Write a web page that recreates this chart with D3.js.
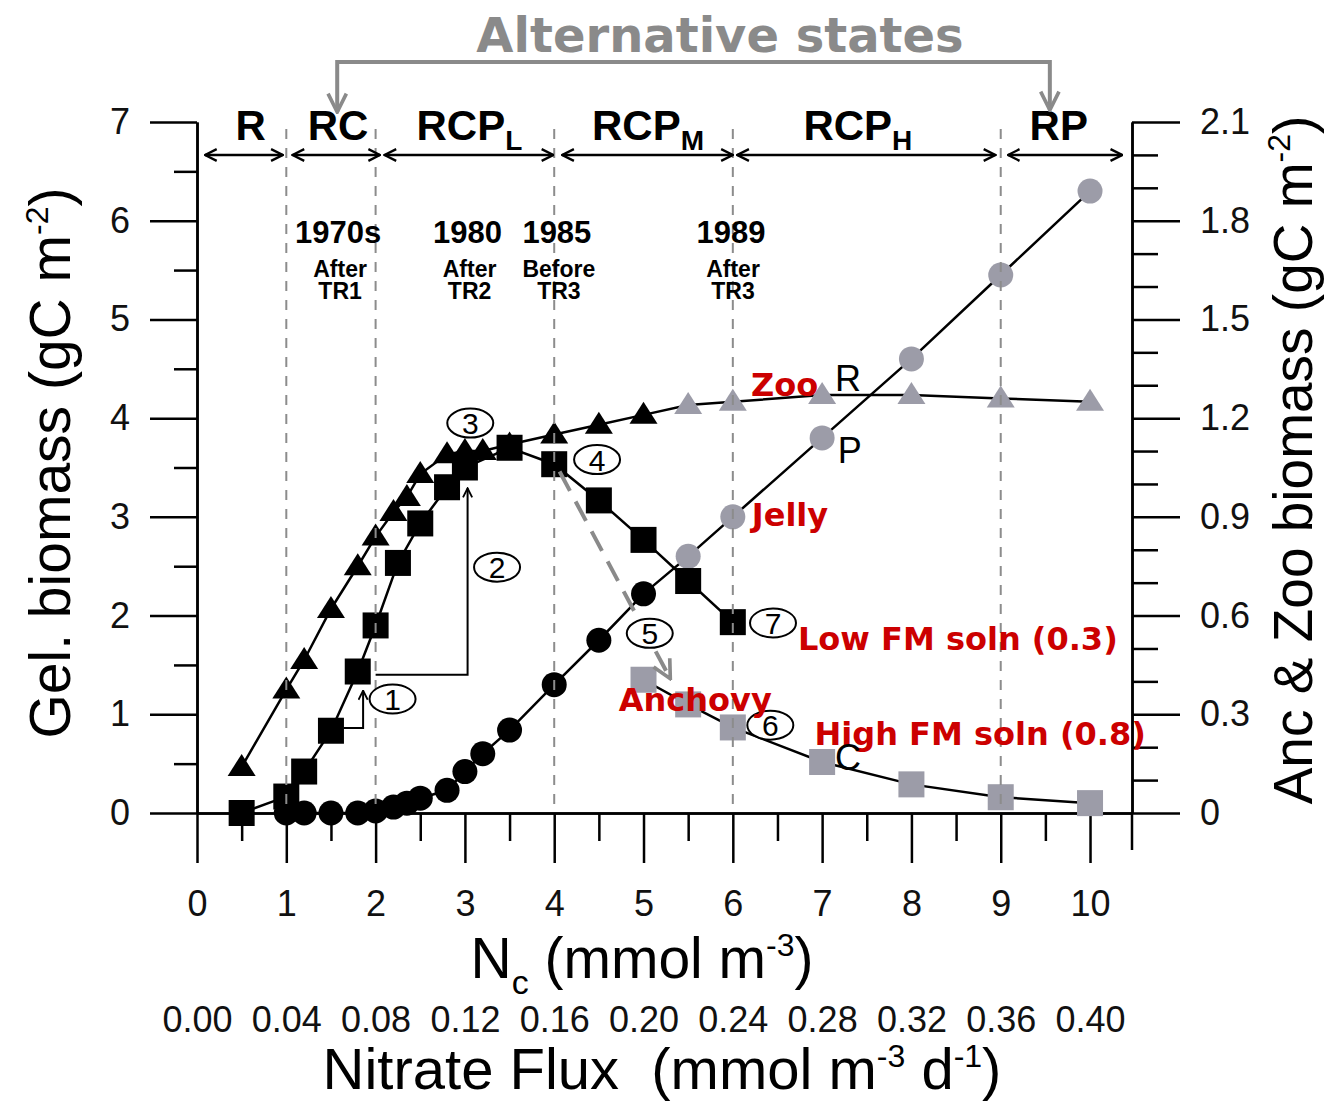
<!DOCTYPE html>
<html>
<head>
<meta charset="utf-8">
<script src="https://cdn.jsdelivr.net/npm/d3@7"></script>
<style>
  body { margin: 0; background: #fff; }
  svg { display: block; }
</style>
</head>
<body>
<div id="chart"></div>
<script>
// ---- data ----
// Zoo (right axis, gC m-2)
var zooNc  = [0.5, 1.0, 1.2, 1.5, 1.8, 2.0, 2.2, 2.35, 2.5, 2.8, 3.0, 3.2, 3.5, 4.0, 4.5, 5.0, 5.5, 6, 7, 8, 9, 10];
var zooBio = [0.14, 0.375, 0.465, 0.62, 0.75, 0.84, 0.915, 0.96, 1.03, 1.09, 1.10, 1.10, 1.12, 1.15, 1.18, 1.21, 1.24, 1.25, 1.27, 1.27, 1.26, 1.25];
// Anchovy, low FM solution (right axis)
var ancLowNc  = [0.5, 1.0, 1.2, 1.5, 1.8, 2.0, 2.25, 2.5, 2.8, 3.0, 3.5, 4.0, 4.5, 5.0, 5.5, 6.0];
var ancLowBio = [0, 0.05, 0.126, 0.25, 0.43, 0.57, 0.76, 0.88, 0.99, 1.05, 1.11, 1.06, 0.95, 0.83, 0.705, 0.58];
// Anchovy, high FM solution (right axis)
var ancHighNc  = [5, 5.5, 6, 7, 8, 9, 10];
var ancHighBio = [0.405, 0.33, 0.26, 0.155, 0.087, 0.048, 0.03];
// Jelly (left axis)
var jellyNc  = [1.0, 1.2, 1.5, 1.8, 2.0, 2.2, 2.35, 2.5, 2.8, 3.0, 3.2, 3.5, 4.0, 4.5, 5.0, 5.5, 6, 7, 8, 9, 10];
var jellyBio = [0, 0, 0, 0, 0.02, 0.06, 0.1, 0.15, 0.23, 0.42, 0.6, 0.84, 1.3, 1.75, 2.22, 2.6, 3.0, 3.8, 4.6, 5.45, 6.3];
var greyFrom = 5.5;   // zoo & jelly markers turn grey from here

// regimes along the top
var regionName = ["R", "RC", "RCP", "RCP", "RCP", "RP"];
var regionSub  = ["", "", "L", "M", "H", ""];
var regionLabelNc = [0.6, 1.58, 3.05, 5.05, 7.4, 9.65];
var regionFrom = [0.09, 1.07, 2.1, 4.09, 6.05, 9.08];
var regionTo   = [0.96, 2.05, 3.99, 6.0, 8.94, 10.36];
var boundaries = [1, 2, 4, 6, 9];

var yearText = ["1970s", "1980", "1985", "1989"];
var yearLine1 = ["After", "After", "Before", "After"];
var yearLine2 = ["TR1", "TR2", "TR3", "TR3"];
var yearNc = [1.58, 3.03, 4.03, 5.98];

// circled step numbers (left axis units)
var stepText = ["1", "2", "3", "4", "5", "6", "7"];
var stepNc   = [2.19, 3.36, 3.06, 4.48, 5.07, 6.42, 6.45];
var stepBio  = [1.155, 2.49, 3.95, 3.58, 1.82, 0.89, 1.925];

// red labels (left axis units)
var tagText = ["Zoo", "Jelly", "Low FM soln (0.3)", "Anchovy", "High FM soln (0.8)"];
var tagNc   = [6.58, 6.64, 8.52, 5.58, 8.77];
var tagBio  = [4.34, 3.02, 1.77, 1.15, 0.81];

// curve letters
var letterText = ["R", "P", "C"];
var letterNc   = [7.29, 7.31, 7.29];
var letterBio  = [4.41, 3.68, 0.57];

var xTicks = d3.range(0, 11, 1);
var fluxTicks = xTicks.map(function(d) { return d * 0.04; });

var width = 1329, height = 1102;
var grey = "#9c9ca8";
var red = "#cc0000";
var sans = "'Liberation Sans', Arial, sans-serif";
var wide = "'DejaVu Sans', Verdana, sans-serif";

var svg = d3.select("#chart").append("svg")
  .attr("width", width)
  .attr("height", height)
  .style("background", "#fff");

var defs = svg.append("defs");
function arrowMarker(id, color, size) {
  defs.append("marker")
    .attr("id", id)
    .attr("viewBox", "0 0 12 12")
    .attr("refX", 11).attr("refY", 6)
    .attr("markerWidth", size).attr("markerHeight", size)
    .attr("markerUnits", "userSpaceOnUse")
    .attr("orient", "auto-start-reverse")
    .append("path")
    .attr("d", "M1,1 L11,6 L1,11")
    .attr("fill", "none")
    .attr("stroke", color)
    .attr("stroke-width", 2);
}
arrowMarker("blackArrow", "#000", 14);
arrowMarker("smallArrow", "#000", 11);
arrowMarker("greyArrow", "#8a8a8a", 22);

var x = d3.scaleLinear().domain([0, 10.47]).range([197, 1132]);
var yL = d3.scaleLinear().domain([0, 7]).range([813, 122]);
var yR = d3.scaleLinear().domain([0, 2.1]).range([813, 122]);

// ---- axes ----
function styleAxis(g, size) {
  g.selectAll("path, line").attr("stroke", "#000").attr("stroke-width", 2.5);
  g.selectAll("text").style("font-family", sans).style("font-size", size + "px").attr("fill", "#111");
}

// left
svg.append("g").attr("transform", "translate(" + x(0) + ",0)")
  .call(d3.axisLeft(yL).tickValues(d3.range(0.5, 7, 1)).tickSize(23).tickSizeOuter(0).tickFormat(""))
  .call(styleAxis, 36);
svg.append("g").attr("transform", "translate(" + x(0) + ",0)")
  .call(d3.axisLeft(yL).tickValues(d3.range(0, 8, 1)).tickSize(47).tickSizeOuter(0).tickPadding(20).tickFormat(d3.format("d")))
  .call(styleAxis, 36);

// right
var xRight = x(10.47);
svg.append("g").attr("transform", "translate(" + xRight + ",0)")
  .call(d3.axisRight(yR).tickValues(d3.range(1, 21, 1).filter(function(d) { return d % 3; }).map(function(d) { return d / 10; }))
    .tickSize(26).tickSizeOuter(0).tickFormat(""))
  .call(styleAxis, 36);
svg.append("g").attr("transform", "translate(" + xRight + ",0)")
  .call(d3.axisRight(yR).tickValues([0, 0.3, 0.6, 0.9, 1.2, 1.5, 1.8, 2.1]).tickSize(48).tickSizeOuter(0).tickPadding(20)
    .tickFormat(function(d) { return d === 0 ? "0" : d3.format(".1f")(d); }))
  .call(styleAxis, 36);
svg.append("line")
  .attr("x1", xRight).attr("x2", xRight)
  .attr("y1", yR(0)).attr("y2", yR(0) + 37)
  .attr("stroke", "#000").attr("stroke-width", 2.5);

// bottom
svg.append("g").attr("transform", "translate(0," + yL(0) + ")")
  .call(d3.axisBottom(x).tickValues(d3.range(0.5, 10.5, 1)).tickSize(28).tickSizeOuter(0).tickFormat(""))
  .call(styleAxis, 36);
svg.append("g").attr("transform", "translate(0," + yL(0) + ")")
  .call(d3.axisBottom(x).tickValues(xTicks).tickSize(50).tickSizeOuter(0).tickPadding(27))
  .call(styleAxis, 36);

// nitrate flux labels
var flux = d3.scaleLinear().domain([0, 0.4]).range([x(0), x(10)]);
var fluxAxis = svg.append("g").attr("transform", "translate(0,1006)")
  .call(d3.axisBottom(flux).tickValues(fluxTicks).tickSize(0).tickPadding(0).tickFormat(d3.format(".2f")));
fluxAxis.select(".domain").remove();
fluxAxis.call(styleAxis, 36);

// axis titles
var t1 = svg.append("text")
  .attr("x", 642).attr("y", 978)
  .attr("text-anchor", "middle")
  .style("font-family", sans).style("font-size", "57px");
t1.append("tspan").text("N");
t1.append("tspan").attr("font-size", "34px").attr("dy", 16).text("c");
t1.append("tspan").attr("dy", -16).text(" (mmol m");
t1.append("tspan").attr("font-size", "32px").attr("dy", -22).text("-3");
t1.append("tspan").attr("dy", 22).text(")");

var t2 = svg.append("text")
  .attr("x", 662).attr("y", 1089)
  .attr("text-anchor", "middle")
  .style("font-family", sans).style("font-size", "58px");
t2.append("tspan").text("Nitrate Flux \u00a0(mmol m");
t2.append("tspan").attr("font-size", "32px").attr("dy", -22).text("-3");
t2.append("tspan").attr("dy", 22).text(" d");
t2.append("tspan").attr("font-size", "32px").attr("dy", -22).text("-1");
t2.append("tspan").attr("dy", 22).text(")");

var t3 = svg.append("text")
  .attr("transform", "translate(70,463) rotate(-90)")
  .attr("text-anchor", "middle")
  .style("font-family", sans).style("font-size", "57px");
t3.append("tspan").text("Gel. biomass (gC m");
t3.append("tspan").attr("font-size", "32px").attr("dy", -22).text("-2");
t3.append("tspan").attr("dy", 22).text(")");

var t4 = svg.append("text")
  .attr("transform", "translate(1312,460) rotate(-90)")
  .attr("text-anchor", "middle")
  .style("font-family", sans).style("font-size", "55px");
t4.append("tspan").text("Anc & Zoo biomass (gC m");
t4.append("tspan").attr("font-size", "32px").attr("dy", -22).text("-2");
t4.append("tspan").attr("dy", 22).text(")");

// ---- series ----
function pairs(xs, ys) { return xs.map(function(d, i) { return [d, ys[i]]; }); }
var zoo = pairs(zooNc, zooBio);
var ancLow = pairs(ancLowNc, ancLowBio);
var ancHigh = pairs(ancHighNc, ancHighBio);
var jelly = pairs(jellyNc, jellyBio);

var lineR = d3.line().x(function(d) { return x(d[0]); }).y(function(d) { return yR(d[1]); });
var lineL = d3.line().x(function(d) { return x(d[0]); }).y(function(d) { return yL(d[1]); });

[[zoo, lineR], [ancLow, lineR], [ancHigh, lineR], [jelly, lineL]].forEach(function(s) {
  svg.append("path")
    .attr("d", s[1](s[0]))
    .attr("fill", "none")
    .attr("stroke", "#000")
    .attr("stroke-width", 2.5);
});

// step arrows 1 and 2 (left units)
var step1 = [[1.64, 0.86], [1.86, 0.86], [1.86, 1.24]];
var step2 = [[2.0, 1.4], [3.03, 1.4], [3.03, 3.29]];
[step1, step2].forEach(function(s) {
  svg.append("path")
    .attr("d", lineL(s))
    .attr("fill", "none")
    .attr("stroke", "#000")
    .attr("stroke-width", 2)
    .attr("marker-end", "url(#smallArrow)");
});

// markers
svg.selectAll(".jelly").data(jelly).enter().append("circle")
  .attr("class", "jelly")
  .attr("cx", function(d) { return x(d[0]); })
  .attr("cy", function(d) { return yL(d[1]); })
  .attr("r", 12.5)
  .attr("fill", function(d) { return d[0] >= greyFrom ? grey : "#000"; });

svg.selectAll(".anclow").data(ancLow).enter().append("rect")
  .attr("class", "anclow")
  .attr("x", function(d) { return x(d[0]) - 13; })
  .attr("y", function(d) { return yR(d[1]) - 13; })
  .attr("width", 26).attr("height", 26)
  .attr("fill", "#000");

svg.selectAll(".anchigh").data(ancHigh).enter().append("rect")
  .attr("class", "anchigh")
  .attr("x", function(d) { return x(d[0]) - 13; })
  .attr("y", function(d) { return yR(d[1]) - 13; })
  .attr("width", 26).attr("height", 26)
  .attr("fill", grey);

svg.selectAll(".zoo").data(zoo).enter().append("path")
  .attr("class", "zoo")
  .attr("transform", function(d) { return "translate(" + x(d[0]) + "," + yR(d[1]) + ")"; })
  .attr("d", "M0,-13 L14,9 L-14,9 Z")
  .attr("fill", function(d) { return d[0] >= greyFrom ? grey : "#000"; });

// grey dashed transition arrow (step 5)
svg.append("path")
  .attr("d", lineL([[4.06, 3.46], [5.3, 1.36]]))
  .attr("stroke", "#8a8a8a")
  .attr("stroke-width", 4)
  .attr("stroke-dasharray", "22,12")
  .attr("fill", "none")
  .attr("marker-end", "url(#greyArrow)");

// regime boundaries
svg.selectAll(".bound").data(boundaries).enter().append("line")
  .attr("class", "bound")
  .attr("x1", function(d) { return x(d); })
  .attr("x2", function(d) { return x(d); })
  .attr("y1", yL(6.93)).attr("y2", yL(0))
  .attr("stroke", "#8c8c8c")
  .attr("stroke-width", 2)
  .attr("stroke-dasharray", "10,9");

// regime arrows and labels
regionFrom.forEach(function(d, i) {
  svg.append("line")
    .attr("x1", x(d)).attr("x2", x(regionTo[i]))
    .attr("y1", 155).attr("y2", 155)
    .attr("stroke", "#000").attr("stroke-width", 2.5)
    .attr("marker-start", "url(#blackArrow)")
    .attr("marker-end", "url(#blackArrow)");
  var t = svg.append("text")
    .attr("x", x(regionLabelNc[i])).attr("y", 140)
    .attr("text-anchor", "middle")
    .style("font-family", sans).style("font-weight", "bold").style("font-size", "42px")
    .text(regionName[i]);
  if (regionSub[i]) {
    t.append("tspan").attr("font-size", "28px").attr("dy", 10).text(regionSub[i]);
  }
});

// years
yearText.forEach(function(d, i) {
  var g = svg.append("g").style("font-family", sans).attr("text-anchor", "middle");
  g.append("text").attr("x", x(yearNc[i])).attr("y", 243)
    .style("font-size", "31px").style("font-weight", "bold").text(d);
  g.append("text").attr("x", x(yearNc[i]) + 2).attr("y", 277)
    .style("font-size", "23px").style("font-weight", "bold").text(yearLine1[i]);
  g.append("text").attr("x", x(yearNc[i]) + 2).attr("y", 299)
    .style("font-size", "23px").style("font-weight", "bold").text(yearLine2[i]);
});

// "Alternative states" bracket
svg.append("text")
  .attr("x", 720).attr("y", 52)
  .attr("text-anchor", "middle")
  .style("font-family", wide).style("font-weight", "bold").style("font-size", "48px")
  .attr("fill", "#8a8a8a")
  .text("Alternative states");
svg.append("path")
  .attr("d", "M" + x(1.57) + ",112 L" + x(1.57) + ",62 L" + x(9.55) + ",62 L" + x(9.55) + ",110")
  .attr("fill", "none")
  .attr("stroke", "#8a8a8a")
  .attr("stroke-width", 4)
  .attr("marker-start", "url(#greyArrow)")
  .attr("marker-end", "url(#greyArrow)");

// circled numbers
stepText.forEach(function(d, i) {
  var cx = x(stepNc[i]), cy = yL(stepBio[i]);
  svg.append("ellipse")
    .attr("cx", cx).attr("cy", cy).attr("rx", 23).attr("ry", 14.5)
    .attr("fill", "#fff").attr("stroke", "#000").attr("stroke-width", 2);
  svg.append("text")
    .attr("x", cx).attr("y", cy + 11)
    .attr("text-anchor", "middle")
    .style("font-family", sans).style("font-size", "30px")
    .text(d);
});

// red labels
tagText.forEach(function(d, i) {
  svg.append("text")
    .attr("x", x(tagNc[i])).attr("y", yL(tagBio[i]))
    .attr("dy", "0.36em")
    .attr("text-anchor", "middle")
    .style("font-family", wide).style("font-weight", "bold").style("font-size", "32px")
    .attr("fill", red)
    .text(d);
});

// curve letters
letterText.forEach(function(d, i) {
  svg.append("text")
    .attr("x", x(letterNc[i])).attr("y", yL(letterBio[i]))
    .attr("dy", "0.36em")
    .attr("text-anchor", "middle")
    .style("font-family", sans).style("font-size", "36px")
    .text(d);
});
</script>
</body>
</html>
